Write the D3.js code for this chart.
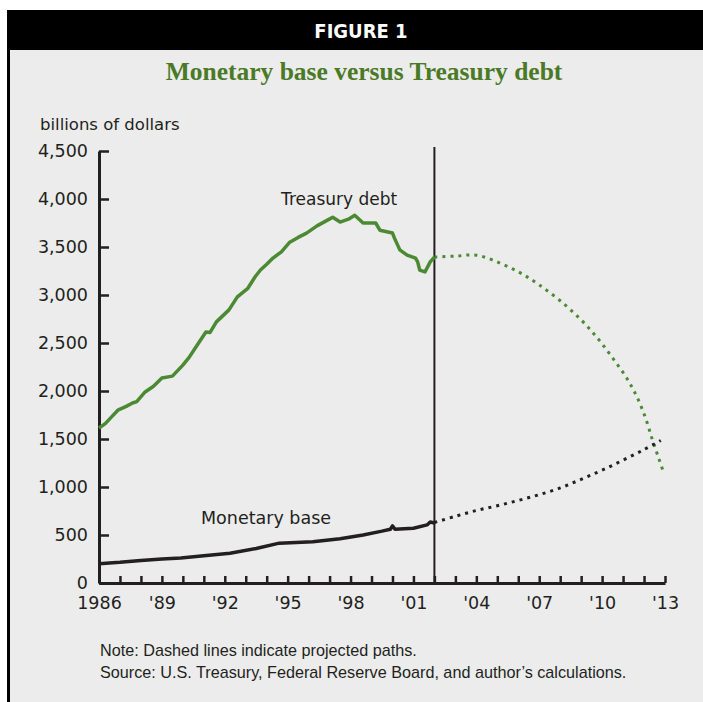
<!DOCTYPE html>
<html>
<head>
<meta charset="utf-8">
<script src="https://cdn.jsdelivr.net/npm/d3@7"></script>
<style>
	body { margin: 0; background: #fff; }
	svg text { font-family: "DejaVu Sans", sans-serif; fill: #231f20; }
</style>
</head>
<body>
<div id="chart"></div>
<script>
// Treasury debt, actual (year, billions)
const debtActual = [
	[1986.0, 1615], [1986.3, 1660], [1986.6, 1730], [1986.9, 1800], [1987.3, 1840], [1987.6, 1875],
	[1987.8, 1890], [1988.2, 1990], [1988.6, 2050], [1989.0, 2135], [1989.5, 2155],
	[1990.0, 2270], [1990.3, 2350], [1990.6, 2450], [1991.1, 2615], [1991.3, 2610],
	[1991.6, 2720], [1992.2, 2845], [1992.6, 2980], [1993.1, 3070], [1993.45, 3190],
	[1993.7, 3260], [1994.0, 3320], [1994.3, 3385], [1994.7, 3450], [1995.1, 3550],
	[1995.5, 3600], [1995.9, 3645], [1996.4, 3720], [1996.9, 3780], [1997.15, 3810],
	[1997.5, 3760], [1997.9, 3790], [1998.2, 3830], [1998.6, 3750], [1999.2, 3750],
	[1999.4, 3675], [2000.0, 3645], [2000.1, 3590], [2000.35, 3470], [2000.7, 3415],
	[2001.1, 3385], [2001.2, 3345], [2001.3, 3260], [2001.55, 3240], [2001.8, 3345],
	[2002.0, 3395]
];

// Treasury debt, projected
const debtProjected = [
	[2002.0, 3395], [2003.0, 3405], [2004.0, 3415], [2005.1, 3335], [2006.1, 3230],
	[2007.0, 3105], [2008.0, 2940], [2009.0, 2740], [2009.8, 2545], [2010.5, 2345],
	[2011.2, 2125], [2011.7, 1920], [2012.1, 1700], [2012.4, 1490], [2012.7, 1300],
	[2012.95, 1140]
];

// Monetary base, actual
const baseActual = [
	[1986.0, 200], [1987.0, 215], [1988.0, 235], [1989.0, 250], [1989.9, 260],
	[1991.0, 285], [1992.25, 310], [1993.5, 360], [1994.6, 415], [1996.2, 430],
	[1997.5, 460], [1998.6, 500], [1999.5, 540], [1999.9, 560], [2000.0, 595],
	[2000.12, 560], [2001.0, 570], [2001.65, 605], [2001.8, 635], [2002.0, 625]
];

// Monetary base, projected
const baseProjected = [
	[2002.0, 630], [2003.0, 695], [2004.0, 755], [2005.0, 805], [2006.0, 860],
	[2007.0, 920], [2008.0, 990], [2009.0, 1080], [2010.0, 1175], [2011.0, 1280],
	[2012.0, 1390], [2012.8, 1485]
];

const yTicks = [0, 500, 1000, 1500, 2000, 2500, 3000, 3500, 4000, 4500];
const xLabelYears = [1986, 1989, 1992, 1995, 1998, 2001, 2004, 2007, 2010, 2013];
const splitYear = 2002;

const green = "#4b8a32";
const ink = "#231f20";

const width = 703;
const height = 702;

const svg = d3
	.select("#chart")
	.append("svg")
	.attr("width", width)
	.attr("height", height);

// frame
svg.append("rect")
	.attr("x", 9).attr("y", 10)
	.attr("width", width).attr("height", height)
	.attr("fill", "#ececec");
svg.append("rect")
	.attr("x", 7).attr("y", 10)
	.attr("width", width).attr("height", 40)
	.attr("fill", "#000");
svg.append("line")
	.attr("x1", 8.5).attr("x2", 8.5)
	.attr("y1", 10).attr("y2", height)
	.attr("stroke", "#000").attr("stroke-width", 3);

svg.append("text")
	.attr("x", 361).attr("y", 38)
	.attr("text-anchor", "middle")
	.style("font-family", '"DejaVu Sans Condensed", "DejaVu Sans", sans-serif')
	.style("font-stretch", "condensed")
	.style("font-weight", "bold")
	.style("font-size", "20px")
	.style("fill", "#fff")
	.text("FIGURE 1");

svg.append("text")
	.attr("x", 364).attr("y", 80)
	.attr("text-anchor", "middle")
	.style("font-family", '"Liberation Serif", "Times New Roman", serif')
	.style("font-weight", "bold")
	.style("font-size", "25.5px")
	.style("fill", "#4a7a26")
	.text("Monetary base versus Treasury debt");

svg.append("text")
	.attr("x", 40).attr("y", 130)
	.style("font-size", "16.5px")
	.text("billions of dollars");

const x = d3.scaleLinear().domain([1986, 2013]).range([99, 665]);
const y = d3.scaleLinear().domain([0, 4500]).range([583, 151]);

// y axis
const yAxis = svg.append("g")
	.attr("transform", `translate(${x(1986)},0)`)
	.call(
		d3.axisLeft(y)
			.tickValues(yTicks)
			.tickSize(-10)
			.tickSizeOuter(0)
			.tickPadding(11)
			.tickFormat(d3.format(","))
	);

// x axis, a tick every year
const xAxis = svg.append("g")
	.attr("transform", `translate(0,${y(0)})`)
	.call(
		d3.axisBottom(x)
			.tickValues(d3.range(1986, 2014))
			.tickSize(-7)
			.tickSizeOuter(0)
			.tickPadding(14)
			.tickFormat((d) =>
				xLabelYears.includes(d) ? (d === 1986 ? "1986" : "'" + String(d).slice(2)) : ""
			)
	);

[yAxis, xAxis].forEach((g) => {
	g.select(".domain").attr("stroke", ink).attr("stroke-width", 3);
	g.selectAll(".tick line").attr("stroke", ink).attr("stroke-width", 2.5);
	g.selectAll(".tick text")
		.style("font-family", '"DejaVu Sans", sans-serif')
		.style("font-size", "17.5px")
		.attr("fill", ink);
});

// divider between actual and projected
svg.append("line")
	.attr("x1", x(splitYear)).attr("x2", x(splitYear))
	.attr("y1", 147).attr("y2", y(0))
	.attr("stroke", ink).attr("stroke-width", 2);

const line = d3.line().x((d) => x(d[0])).y((d) => y(d[1]));
const smooth = d3.line().x((d) => x(d[0])).y((d) => y(d[1])).curve(d3.curveCatmullRom.alpha(0.5));

svg.append("path")
	.datum(debtActual)
	.attr("d", line)
	.attr("fill", "none")
	.attr("stroke", green)
	.attr("stroke-width", 3.5)
	.attr("stroke-linejoin", "round");

svg.append("path")
	.datum(debtProjected)
	.attr("d", smooth)
	.attr("fill", "none")
	.attr("stroke", green)
	.attr("stroke-width", 3)
	.attr("stroke-dasharray", "3,5");

svg.append("path")
	.datum(baseActual)
	.attr("d", line)
	.attr("fill", "none")
	.attr("stroke", ink)
	.attr("stroke-width", 3.5)
	.attr("stroke-linejoin", "round");

svg.append("path")
	.datum(baseProjected)
	.attr("d", smooth)
	.attr("fill", "none")
	.attr("stroke", ink)
	.attr("stroke-width", 3)
	.attr("stroke-dasharray", "3,5");

// series labels
svg.append("text")
	.attr("x", 281).attr("y", 205)
	.style("font-size", "17px")
	.text("Treasury debt");

svg.append("text")
	.attr("x", 201).attr("y", 524)
	.style("font-size", "17.5px")
	.text("Monetary base");

// notes
svg.append("text")
	.attr("x", 100).attr("y", 656)
	.style("font-family", '"Liberation Sans", Arial, sans-serif')
	.style("font-size", "16.2px")
	.text("Note: Dashed lines indicate projected paths.");

svg.append("text")
	.attr("x", 100).attr("y", 678)
	.style("font-family", '"Liberation Sans", Arial, sans-serif')
	.style("font-size", "16.2px")
	.text("Source: U.S. Treasury, Federal Reserve Board, and author\u2019s calculations.");
</script>
</body>
</html>
